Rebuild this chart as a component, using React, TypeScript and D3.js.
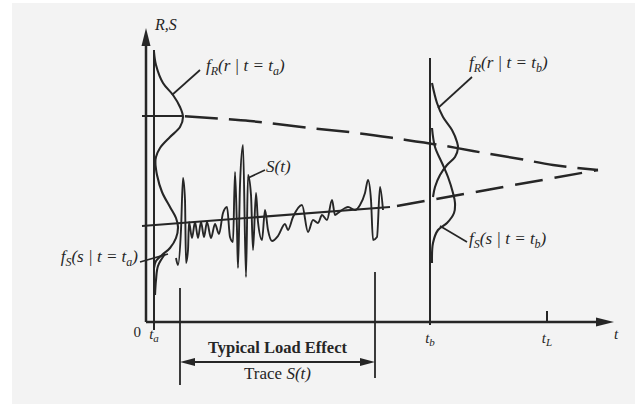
import React from "react";
import * as d3 from "d3";

type P = [number, number];

// Time (t) and value (s) in data units.
const tMax = 468;
const sMax = 294;

const tA = 8;
const tB = 284;
const tL = 401;
const traceStart = 34;
const traceEnd = 229;

// Typical load effect trace S(t)
const loadTrace: P[] = [
  [30, 64], [32, 57], [35, 92], [37, 144], [39, 122], [40, 59], [42, 72], [43, 100],
  [46, 84], [49, 100], [52, 84], [55, 100], [58, 85], [61, 100], [65, 84], [69, 98],
  [73, 88], [77, 109], [81, 115], [84, 85], [87, 80], [89, 150], [91, 92], [92, 54],
  [94, 137], [97, 177], [100, 45], [102, 147], [105, 127], [107, 72], [110, 129],
  [112, 100], [116, 82], [119, 112], [122, 92], [126, 81], [132, 86], [139, 98],
  [142, 92], [147, 105], [156, 117], [162, 90], [167, 102], [172, 99], [176, 107],
  [181, 102], [186, 122], [189, 107], [192, 109], [199, 114], [202, 115], [209, 112],
  [214, 117], [219, 129], [222, 142], [225, 122], [227, 82], [231, 85], [234, 135],
  [237, 112],
];

// Mean resistance (decreasing) and mean load effect (increasing)
const resistanceTick: P[] = [[-4, 206], [36, 206]];
const resistanceMean: P[] = [
  [36, 206], [104, 201], [164, 194], [211, 189], [254, 183], [294, 177],
  [327, 171], [374, 163], [407, 157], [452, 152],
];
const loadMeanSolid: P[] = [[-4, 96], [244, 115]];
const loadMeanDashed: P[] = [[251, 116], [452, 152]];

// Density curves (t offset = density height)
const fRa: P[] = [
  [8, 270], [10, 257], [17, 239], [27, 227], [34, 215], [37, 205], [34, 195],
  [24, 185], [14, 174], [10, 165], [9, 157],
];
const fSa: P[] = [
  [9, 162], [11, 147], [16, 130], [24, 115], [30, 104], [32, 95], [30, 84],
  [24, 74], [16, 67], [10, 61], [8, 54],
];
const fSaTail: P[] = [[19, 68], [12, 56], [10, 42], [9, 27]];
const fRb: P[] = [
  [286, 239], [291, 219], [297, 205], [306, 192], [311, 180], [312, 174],
  [309, 165], [301, 157], [294, 147], [289, 135], [287, 125],
];
const fSb: P[] = [
  [286, 194], [289, 175], [296, 159], [302, 145], [307, 129], [309, 119],
  [308, 109], [301, 99], [292, 92], [287, 79], [286, 59],
];

// Leader lines
const leaders: P[][] = [
  [[26, 227], [54, 252]],
  [[102, 144], [119, 152]],
  [[292, 214], [326, 245]],
  [[294, 96], [321, 80]],
  [[-6, 60], [22, 68]],
];

const ink = "#262626";
const serif = "'Liberation Serif', 'DejaVu Serif', serif";

export default function App() {
  const x = d3.scaleLinear().domain([0, tMax]).range([146, 614]);
  const y = d3.scaleLinear().domain([0, sMax]).range([322, 28]);
  const mk = (curve: d3.CurveFactory) =>
    d3.line<P>().x((d) => x(d[0])).y((d) => y(d[1])).curve(curve);
  const straight = mk(d3.curveLinear);
  const smooth = mk(d3.curveCatmullRom.alpha(0.5));
  const trace = mk(d3.curveMonotoneX);

  const x0 = x(0);
  const y0 = y(0);
  const arrowY = y(-40);

  const sub = (s: string) => (
    <tspan dy={4} fontSize={12}>{s}</tspan>
  );

  return (
    <svg
      width={640}
      height={404}
      style={{ position: "absolute", left: 0, top: 0, display: "block" }}
    >
      <rect x={0} y={0} width={640} height={404} fill="#ffffff" />
      <rect x={12} y={3} width={623} height={401} fill="#f3f3f3" />

      {/* axes */}
      <line x1={x0} y1={y0} x2={x0} y2={y(276)} stroke={ink} strokeWidth={2.5} />
      <path
        d={`M${x0},${y(sMax)} L${x0 - 4.5},${y(276)} L${x0 + 4.5},${y(276)} Z`}
        fill={ink}
      />
      <line x1={x0} y1={y0} x2={x(452)} y2={y0} stroke={ink} strokeWidth={2.5} />
      <path
        d={`M${x(tMax)},${y0} L${x(450)},${y0 - 4.5} L${x(450)},${y0 + 4.5} Z`}
        fill={ink}
      />

      {/* time verticals */}
      <line x1={x(tA)} y1={y(272)} x2={x(tA)} y2={y(-8)} stroke={ink} strokeWidth={2} />
      <line x1={x(tB)} y1={y(264)} x2={x(tB)} y2={y(-3)} stroke={ink} strokeWidth={2} />
      <line x1={x(tL)} y1={y(0)} x2={x(tL)} y2={y(11)} stroke={ink} strokeWidth={2} />

      {/* mean lines */}
      <path d={straight(resistanceTick) ?? ""} fill="none" stroke={ink} strokeWidth={2.2} />
      <path
        d={smooth(resistanceMean) ?? ""}
        fill="none"
        stroke={ink}
        strokeWidth={2.5}
        strokeDasharray="33 11"
        strokeDashoffset={-3}
      />
      <path d={straight(loadMeanSolid) ?? ""} fill="none" stroke={ink} strokeWidth={2.2} />
      <path
        d={straight(loadMeanDashed) ?? ""}
        fill="none"
        stroke={ink}
        strokeWidth={2.5}
        strokeDasharray="28 12"
      />

      {/* densities */}
      {[fRa, fSa, fSaTail, fRb, fSb].map((c, i) => (
        <path key={i} d={smooth(c) ?? ""} fill="none" stroke={ink} strokeWidth={2.1} />
      ))}

      {/* load trace */}
      <path d={trace(loadTrace) ?? ""} fill="none" stroke={ink} strokeWidth={1.9} />

      {/* leaders */}
      {leaders.map((l, i) => (
        <path key={i} d={straight(l) ?? ""} fill="none" stroke={ink} strokeWidth={1.7} />
      ))}

      {/* trace extent */}
      <line x1={x(traceStart)} y1={y(34)} x2={x(traceStart)} y2={y(-63)} stroke={ink} strokeWidth={1.8} />
      <line x1={x(traceEnd)} y1={y(50)} x2={x(traceEnd)} y2={y(-56)} stroke={ink} strokeWidth={1.8} />
      <line x1={x(traceStart) + 8} y1={arrowY} x2={x(traceEnd) - 8} y2={arrowY} stroke={ink} strokeWidth={1.8} />
      <path
        d={`M${x(traceStart)},${arrowY} L${x(traceStart) + 15},${arrowY - 4} L${x(traceStart) + 15},${arrowY + 4} Z`}
        fill={ink}
      />
      <path
        d={`M${x(traceEnd)},${arrowY} L${x(traceEnd) - 15},${arrowY - 4} L${x(traceEnd) - 15},${arrowY + 4} Z`}
        fill={ink}
      />

      {/* texts */}
      <g fontFamily={serif} fill={ink}>
        <text x={x0 + 9} y={y(sMax) + 2} fontSize={16} fontStyle="italic">R,S</text>
        <text x={206} y={y(251)} fontSize={17} fontStyle="italic">
          f{sub("R")}<tspan dy={-4}>(r | t = t</tspan>{sub("a")}<tspan dy={-4}>)</tspan>
        </text>
        <text x={469} y={y(254)} fontSize={17} fontStyle="italic">
          f{sub("R")}<tspan dy={-4}>(r | t = t</tspan>{sub("b")}<tspan dy={-4}>)</tspan>
        </text>
        <text x={469} y={y(78)} fontSize={17} fontStyle="italic">
          f{sub("S")}<tspan dy={-4}>(s | t = t</tspan>{sub("b")}<tspan dy={-4}>)</tspan>
        </text>
        <text x={138} y={y(60)} fontSize={17} fontStyle="italic" textAnchor="end">
          f{sub("S")}<tspan dy={-4}>(s | t = t</tspan>{sub("a")}<tspan dy={-4}>)</tspan>
        </text>
        <text x={266} y={y(150)} fontSize={17} fontStyle="italic">S(t)</text>

        <text x={x(-5)} y={y(-15)} fontSize={15} textAnchor="end">0</text>
        <text x={x(tA)} y={y(-17)} fontSize={15} fontStyle="italic" textAnchor="middle">
          t<tspan dy={3} fontSize={11}>a</tspan>
        </text>
        <text x={x(tB)} y={y(-21)} fontSize={15} fontStyle="italic" textAnchor="middle">
          t<tspan dy={3} fontSize={11}>b</tspan>
        </text>
        <text x={x(tL)} y={y(-21)} fontSize={15} fontStyle="italic" textAnchor="middle">
          t<tspan dy={3} fontSize={11}>L</tspan>
        </text>
        <text x={x(tMax) + 2} y={y(-17)} fontSize={15} fontStyle="italic" textAnchor="middle">t</text>

        <text x={(x(traceStart) + x(traceEnd)) / 2} y={arrowY - 9} fontSize={16.5} fontWeight="bold" textAnchor="middle">
          Typical Load Effect
        </text>
        <text x={(x(traceStart) + x(traceEnd)) / 2} y={arrowY + 17} fontSize={17} textAnchor="middle">
          Trace <tspan fontStyle="italic">S(t)</tspan>
        </text>
      </g>
    </svg>
  );
}
